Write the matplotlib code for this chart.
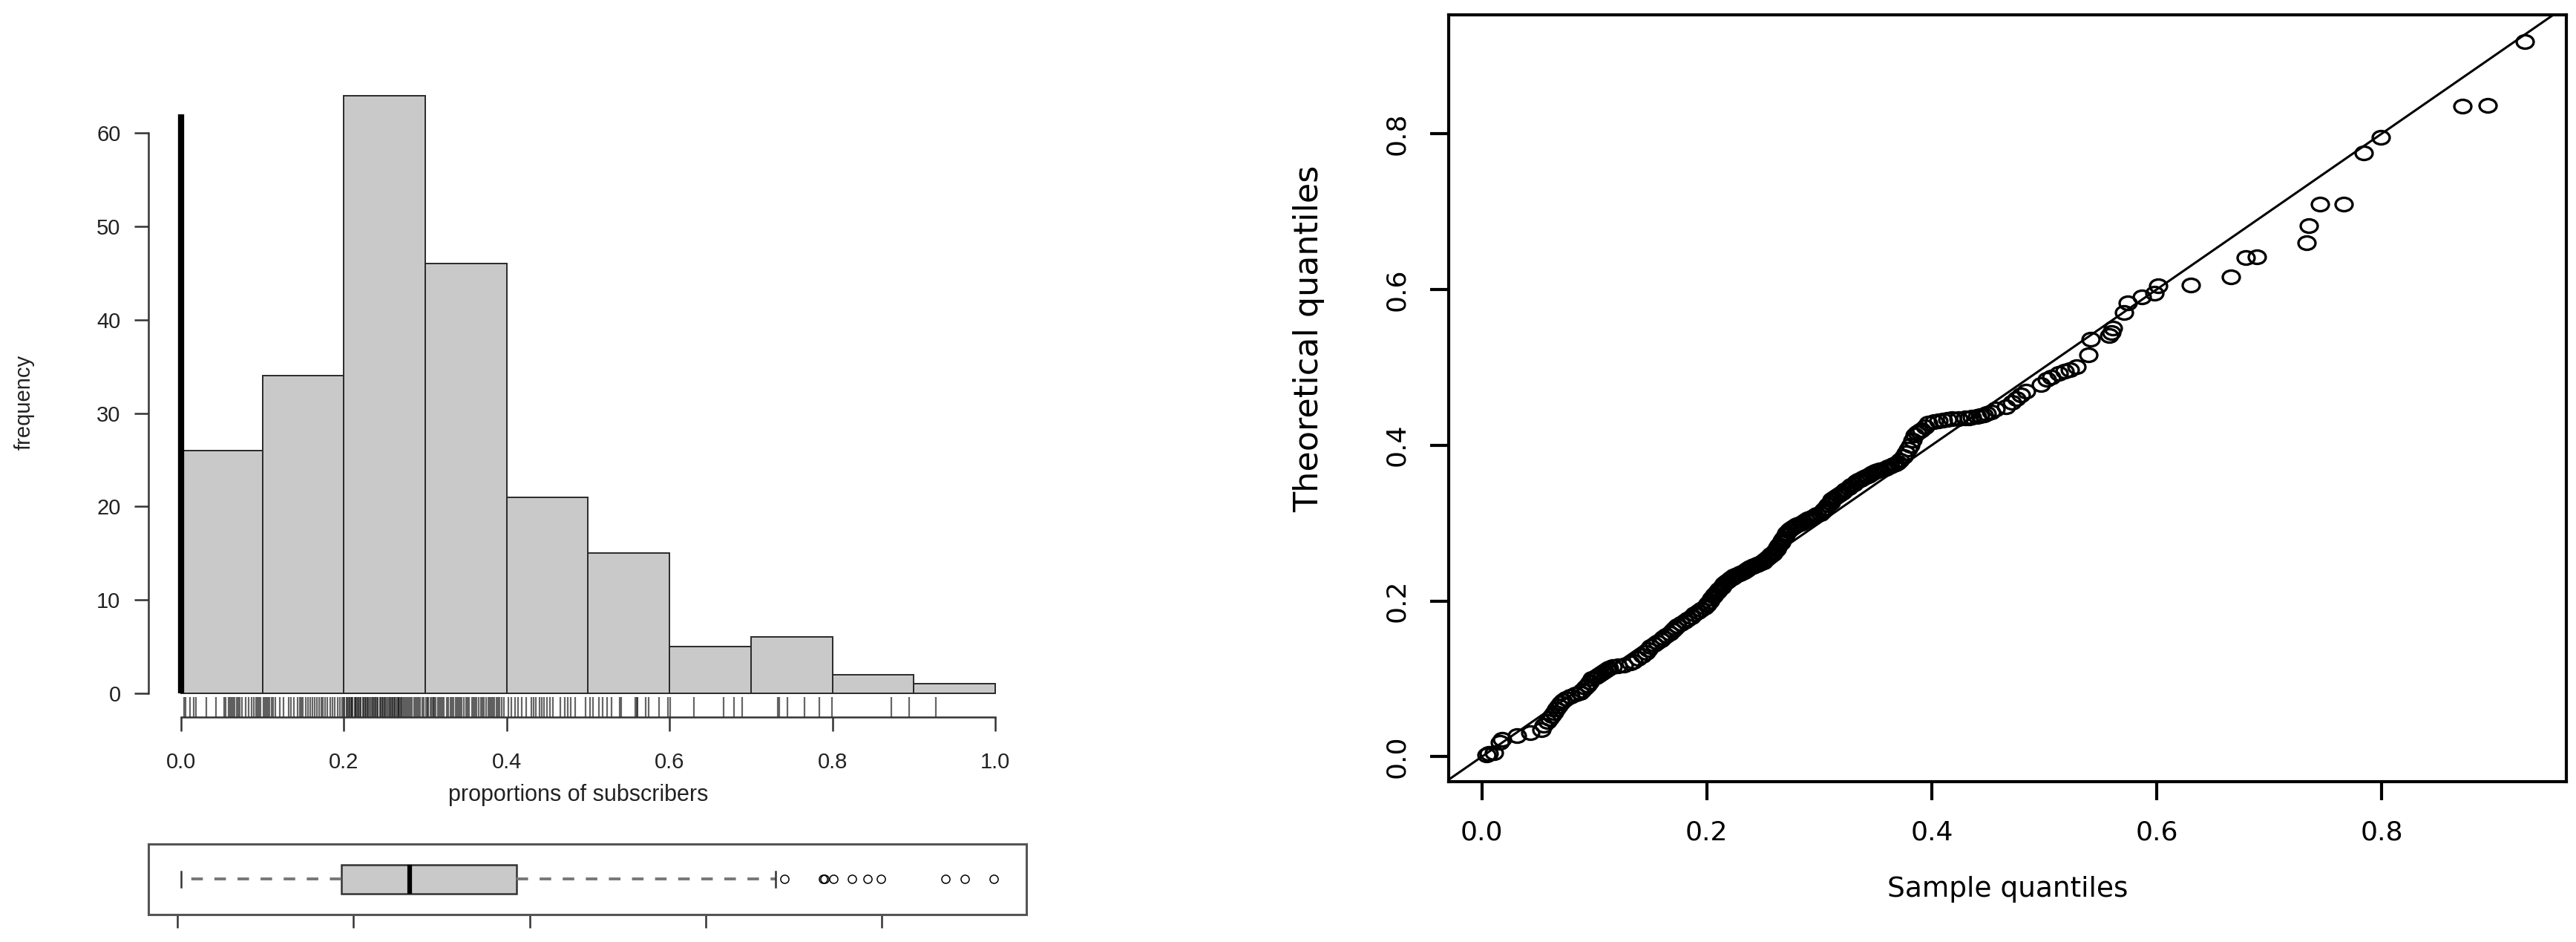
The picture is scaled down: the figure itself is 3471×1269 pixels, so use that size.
import matplotlib
matplotlib.use('Agg')
import matplotlib.pyplot as plt
import numpy as np
from matplotlib.path import Path

W, H = 3471, 1269

# histogram of the proportions
bin_edges = [0.0, 0.1, 0.2, 0.3, 0.4, 0.5, 0.6, 0.7, 0.8, 0.9, 1.0]
counts = [26, 34, 64, 46, 21, 15, 5, 6, 2, 1]
zero_spike = 62  # thick bar drawn at 0

# sorted sample values (also used for the rug and the x of the QQ plot)
sample = [
    0.004, 0.006, 0.011, 0.016, 0.018, 0.031, 0.043, 0.053, 0.055, 0.058,
    0.060, 0.062, 0.064, 0.066, 0.068, 0.070, 0.072, 0.075, 0.079, 0.083,
    0.087, 0.089, 0.092, 0.094, 0.096, 0.098,
    0.101, 0.103, 0.105, 0.107, 0.109, 0.111, 0.113, 0.116, 0.121, 0.126,
    0.132, 0.135, 0.139, 0.143, 0.146, 0.148, 0.150, 0.153, 0.156, 0.159,
    0.161, 0.164, 0.167, 0.170, 0.172, 0.174, 0.177, 0.180, 0.183, 0.186,
    0.189, 0.192, 0.195, 0.198,
    0.200, 0.201, 0.203, 0.204, 0.206, 0.207, 0.209, 0.210, 0.211, 0.213,
    0.214, 0.215, 0.217, 0.218, 0.220, 0.221, 0.223, 0.224, 0.226, 0.227,
    0.229, 0.230, 0.232, 0.233, 0.235, 0.236, 0.238, 0.239, 0.241, 0.242,
    0.244, 0.245, 0.247, 0.248, 0.250, 0.251, 0.253, 0.254, 0.256, 0.257,
    0.259, 0.260, 0.262, 0.263, 0.264, 0.266, 0.267, 0.268, 0.270, 0.271,
    0.273, 0.274, 0.276, 0.278, 0.280, 0.282, 0.284, 0.286, 0.288, 0.290,
    0.292, 0.294, 0.296, 0.298,
    0.301, 0.303, 0.304, 0.306, 0.308, 0.310, 0.311, 0.313, 0.315, 0.317,
    0.319, 0.321, 0.323, 0.326, 0.328, 0.331, 0.333, 0.335, 0.337, 0.339,
    0.341, 0.343, 0.345, 0.347, 0.350, 0.352, 0.354, 0.357, 0.359, 0.361,
    0.363, 0.366, 0.368, 0.370, 0.372, 0.375, 0.377, 0.379, 0.381, 0.383,
    0.385, 0.387, 0.389, 0.391, 0.394, 0.397,
    0.402, 0.406, 0.410, 0.414, 0.418, 0.424, 0.430, 0.433, 0.436, 0.440,
    0.443, 0.446, 0.449, 0.453, 0.457, 0.466, 0.471, 0.475, 0.479, 0.484,
    0.497,
    0.502, 0.506, 0.513, 0.518, 0.523, 0.529, 0.539, 0.541, 0.558, 0.560,
    0.561, 0.571, 0.574, 0.587, 0.598,
    0.601, 0.630, 0.666, 0.679, 0.689,
    0.733, 0.735, 0.745, 0.766, 0.784, 0.799,
    0.872, 0.894,
    0.927,
]

# theoretical quantiles matching each sorted sample value
theoretical = [
    0.002, 0.004, 0.005, 0.018, 0.022, 0.027, 0.031, 0.035, 0.040, 0.045,
    0.049, 0.053, 0.057, 0.061, 0.065, 0.069, 0.072, 0.075, 0.078, 0.080,
    0.082, 0.085, 0.089, 0.092, 0.096, 0.100,
    0.102, 0.104, 0.106, 0.108, 0.110, 0.112, 0.114, 0.116, 0.117, 0.118,
    0.120, 0.122, 0.126, 0.130, 0.134, 0.138, 0.141, 0.144, 0.147, 0.150,
    0.153, 0.156, 0.159, 0.162, 0.165, 0.168, 0.171, 0.174, 0.177, 0.180,
    0.183, 0.186, 0.189, 0.192,
    0.195, 0.197, 0.200, 0.203, 0.206, 0.208, 0.211, 0.213, 0.215, 0.218,
    0.220, 0.222, 0.224, 0.225, 0.227, 0.229, 0.230, 0.232, 0.233, 0.234,
    0.235, 0.236, 0.237, 0.238, 0.240, 0.241, 0.242, 0.243, 0.244, 0.245,
    0.246, 0.247, 0.248, 0.249, 0.250, 0.252, 0.254, 0.256, 0.258, 0.260,
    0.261, 0.263, 0.266, 0.269, 0.272, 0.275, 0.278, 0.281, 0.284, 0.287,
    0.290, 0.292, 0.294, 0.296, 0.298, 0.299, 0.300, 0.302, 0.303, 0.305,
    0.306, 0.307, 0.309, 0.311,
    0.312, 0.315, 0.317, 0.320, 0.323, 0.326, 0.330, 0.332, 0.334, 0.336,
    0.338, 0.340, 0.343, 0.345, 0.348, 0.350, 0.353, 0.355, 0.356, 0.358,
    0.360, 0.361, 0.363, 0.364, 0.366, 0.367, 0.368, 0.369, 0.370, 0.372,
    0.373, 0.375, 0.376, 0.378, 0.381, 0.385, 0.390, 0.395, 0.400, 0.406,
    0.413, 0.416, 0.418, 0.420, 0.424, 0.428,
    0.430, 0.431, 0.432, 0.433, 0.434, 0.434, 0.435, 0.435, 0.436, 0.437,
    0.438, 0.439, 0.441, 0.443, 0.446, 0.449, 0.455, 0.460, 0.465, 0.469,
    0.478,
    0.485, 0.487, 0.492, 0.495, 0.497, 0.501, 0.516, 0.536, 0.541, 0.545,
    0.550, 0.570, 0.583, 0.590, 0.595,
    0.605, 0.606, 0.616, 0.641, 0.642,
    0.660, 0.682, 0.710, 0.710, 0.775, 0.795,
    0.835, 0.836,
    0.918,
]

# boxplot summary
box_q1, box_med, box_q3 = 0.186, 0.264, 0.385
box_whislo, box_whishi = 0.004, 0.679
box_fliers = [0.689, 0.733, 0.735, 0.745, 0.766, 0.784, 0.799, 0.872, 0.894, 0.927]

hist_ticks = [0.0, 0.2, 0.4, 0.6, 0.8, 1.0]
freq_ticks = [0, 10, 20, 30, 40, 50, 60]
qq_ticks = [0.0, 0.2, 0.4, 0.6, 0.8]

grey = '#c9c9c9'
left_font = 'Liberation Sans'
qq_font = 'DejaVu Sans'

fig = plt.figure(figsize=(W / 100, H / 100), dpi=100)


def fx(px):
    return px / W


def fy(py):
    return 1 - py / H


# ---------------- histogram ----------------
ax_h = fig.add_axes([fx(200), fy(966), fx(1385 - 200), (966 - 96.7) / H])
ax_h.set_xlim(-0.04, 1.04)
ax_h.set_ylim(-2.56, 66.56)
ax_h.bar(bin_edges[:-1], counts, width=np.diff(bin_edges), align='edge',
         color=grey, edgecolor='#2a2a2a', linewidth=1.4, zorder=2)
ax_h.vlines(0, 0, zero_spike, color='black', linewidth=6, zorder=3)
ax_h.vlines(sample, -2.56, -0.45, color='black', alpha=0.6, linewidth=1.6)

for s in ('top', 'right'):
    ax_h.spines[s].set_visible(False)
ax_h.spines['left'].set_bounds(0, 60)
ax_h.spines['bottom'].set_bounds(0, 1)
for s in ('left', 'bottom'):
    ax_h.spines[s].set_color('#333333')
    ax_h.spines[s].set_linewidth(1.8)
ax_h.set_xticks(hist_ticks)
ax_h.set_xticklabels(['%.1f' % t for t in hist_ticks])
ax_h.set_yticks(freq_ticks)
ax_h.set_yticklabels([str(t) for t in freq_ticks])
ax_h.tick_params(axis='both', length=14, width=1.8, color='#333333',
                 labelsize=21, labelcolor='#222222')
ax_h.tick_params(axis='x', pad=20)
ax_h.tick_params(axis='y', pad=13)
for lab in ax_h.get_xticklabels() + ax_h.get_yticklabels():
    lab.set_family(left_font)

fig.text(fx(33), fy(542), 'frequency', rotation=90, ha='center', va='center',
         fontsize=21, family=left_font, color='#222222')
fig.text(fx(779), fy(1071), 'proportions of subscribers', ha='center',
         va='center', fontsize=22, family=left_font, color='#222222')

# ---------------- boxplot ----------------
ax_b = fig.add_axes([fx(200), fy(1232), fx(1383 - 200), 95 / H])
ax_b.set_xlim(-0.033, 0.964)
ax_b.set_ylim(0.46, 1.54)
stats = [dict(med=box_med, q1=box_q1, q3=box_q3, whislo=box_whislo,
              whishi=box_whishi, fliers=box_fliers)]
ax_b.bxp(stats, positions=[1], widths=0.45, orientation='horizontal',
         patch_artist=True, capwidths=0.23,
         boxprops=dict(facecolor=grey, edgecolor='#333333', linewidth=1.8),
         medianprops=dict(color='black', linewidth=4.5),
         whiskerprops=dict(color='#777777', linewidth=2.8, linestyle=(0, (4, 4))),
         capprops=dict(color='#333333', linewidth=1.8),
         flierprops=dict(marker='o', markerfacecolor='none', markeredgecolor='black',
                         markersize=8, markeredgewidth=1.1))
for s in ax_b.spines.values():
    s.set_color('#555555')
    s.set_linewidth(2.2)
ax_b.set_yticks([])
ax_b.set_xticks(qq_ticks)
ax_b.set_xticklabels([])
ax_b.tick_params(axis='x', length=13, width=1.8, color='#333333')

# ---------------- QQ plot ----------------
ax_q = fig.add_axes([fx(1951.7), fy(1052.7), fx(3458 - 1951.7), (1052.7 - 20) / H])
ax_q.set_xlim(-0.0297, 0.9642)
ax_q.set_ylim(-0.0318, 0.9526)

circ = Path.unit_circle()
ellipse = Path(circ.vertices * np.array([1.27, 1.0]), circ.codes)
ax_q.plot(sample, theoretical, linestyle='none', marker=ellipse, markersize=16.5,
          markerfacecolor='none', markeredgecolor='black', markeredgewidth=2.4)
ax_q.axline((0, 0), slope=1, color='black', linewidth=2.2)

for s in ax_q.spines.values():
    s.set_linewidth(3)
    s.set_color('black')
ax_q.set_xticks(qq_ticks)
ax_q.set_xticklabels(['%.1f' % t for t in qq_ticks])
ax_q.set_yticks(qq_ticks)
ax_q.set_yticklabels(['%.1f' % t for t in qq_ticks], rotation=90, va='center')
ax_q.tick_params(axis='both', length=18, width=3, labelsize=26, color='black')
ax_q.tick_params(axis='x', pad=19)
ax_q.tick_params(axis='y', pad=20)
for lab in ax_q.get_xticklabels() + ax_q.get_yticklabels():
    lab.set_family(qq_font)

fig.text(fx(2705), fy(1198), 'Sample quantiles', ha='center', va='center',
         fontsize=27, family=qq_font)
fig.text(fx(1764), fy(456), 'Theoretical quantiles', rotation=90, ha='center',
         va='center', fontsize=32, family=qq_font)

fig.savefig('out.png', dpi=100)
